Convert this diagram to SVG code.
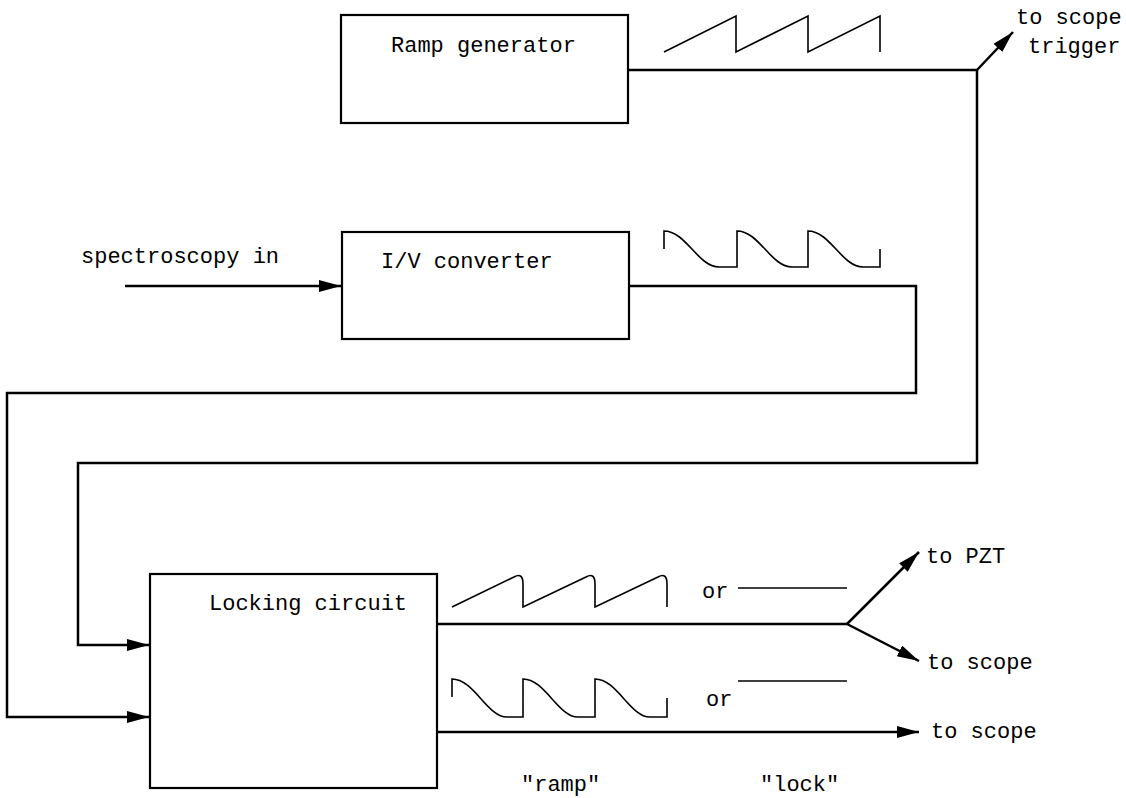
<svg xmlns="http://www.w3.org/2000/svg" width="1126" height="798" viewBox="0 0 1126 798">
<style>
.box{fill:#fff;stroke:#000;stroke-width:2.2}
.wire{fill:none;stroke:#000;stroke-width:2.5}
.wave{fill:none;stroke:#000;stroke-width:1.6}
text{font-family:"Liberation Mono","Courier New",monospace;font-size:22px;fill:#000}
</style>
<defs>
<marker id="arr" markerUnits="userSpaceOnUse" markerWidth="24" markerHeight="14" refX="22" refY="6" orient="auto">
<path d="M0,0 L22,6 L0,12 z" fill="#000"/>
</marker>
</defs>
<rect width="1126" height="798" fill="#fff"/>
<g id="connectors">
<polyline class="wire" points="628,70 977,70 977,463 78,463 78,645 149,645" marker-end="url(#arr)"/>
<line class="wire" x1="977" y1="70" x2="1013" y2="32" marker-end="url(#arr)"/>
<line class="wire" x1="125" y1="286" x2="341" y2="286" marker-end="url(#arr)"/>
<polyline class="wire" points="629,286 916,286 916,393 7,393 7,717 149,717" marker-end="url(#arr)"/>
<polyline class="wire" points="437,624 847,624"/>
<line class="wire" x1="847" y1="624" x2="919" y2="552" marker-end="url(#arr)"/>
<line class="wire" x1="847" y1="624" x2="919" y2="661" marker-end="url(#arr)"/>
<line class="wire" x1="437" y1="732" x2="919" y2="732" marker-end="url(#arr)"/>
</g>
<g id="ramp-generator">
<rect class="box" x="341" y="15" width="287" height="108"/>
<text x="391" y="52">Ramp generator</text>
</g>
<g id="iv-converter">
<rect class="box" x="342" y="232" width="287" height="107"/>
<text x="381" y="268">I/V converter</text>
</g>
<g id="locking-circuit">
<rect class="box" x="150" y="574" width="287" height="214"/>
<text x="209" y="610">Locking circuit</text>
</g>
<g id="waveforms">
<path class="wave" d="M664,52 L736,16 V52 L808,16 V52 L880,16 V52"/>
<path class="wave" d="M664,249 V231 C686,231 698,267 719,267 H737 V231 C759,231 771,267 792,267 H808 V231 C830,231 842,267 863,267 H880 V249"/>
<path class="wave" d="M452,607 L514,577 Q523,572 523,584 V607 L586,577 Q595,572 595,584 V607 L658,577 Q667,572 667,584 V607"/>
<path class="wave" d="M452,697 V679 C474,679 487,717 507,717 H523 V679 C545,679 558,717 578,717 H595 V679 C617,679 630,717 650,717 H667 V698"/>
<line class="wave" x1="738" y1="588" x2="847" y2="588"/>
<line class="wave" x1="738" y1="681" x2="847" y2="681"/>
</g>
<g id="labels">
<text x="1016" y="24">to scope</text>
<text x="1028" y="53">trigger</text>
<text x="81" y="263">spectroscopy in</text>
<text x="702" y="598">or</text>
<text x="706" y="706">or</text>
<text x="926" y="563">to PZT</text>
<text x="927" y="669">to scope</text>
<text x="931" y="738">to scope</text>
<text x="521" y="791">"ramp"</text>
<text x="760" y="791">"lock"</text>
</g>
</svg>
